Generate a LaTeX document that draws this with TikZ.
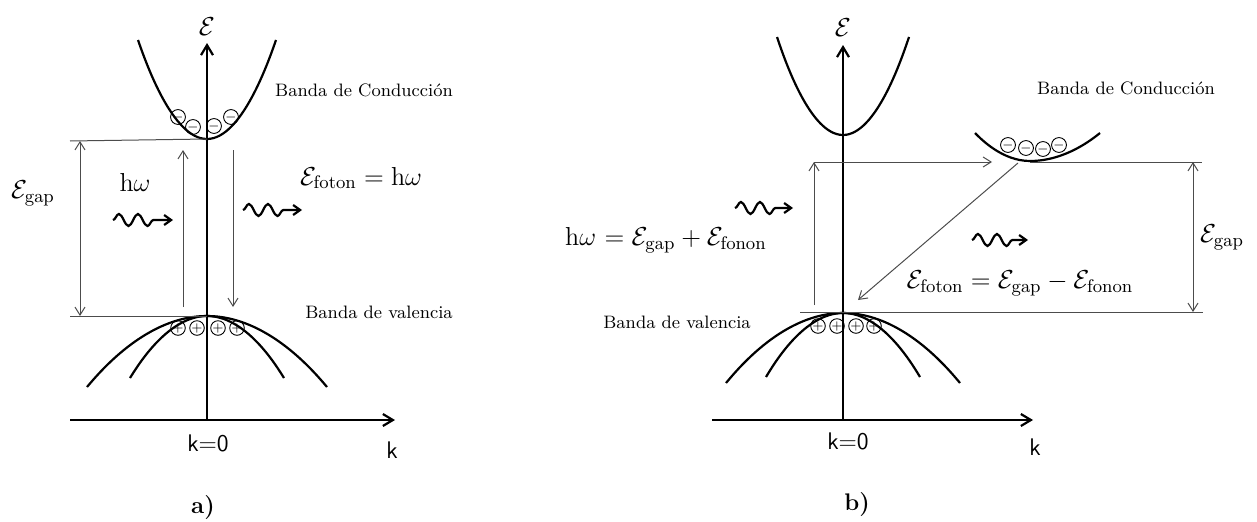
\RequirePackage{fix-cm}
\documentclass[tikz,border=0pt]{standalone}
\usetikzlibrary{arrows.meta, decorations.pathmorphing}

\tikzset{
  band/.style={line width=1.1pt},
  axis/.style={line width=1.1pt, -{Straight Barb[length=5pt,width=6pt]}},
  level/.style={line width=0.5pt, draw=black!70},
  jump/.style={level, -{Straight Barb[length=4pt,width=5pt]}},
  photon/.style={line width=1.1pt, decorate,
    decoration={snake, segment length=9.5pt, amplitude=3pt, pre length=0pt, post length=7pt},
    -{Straight Barb[length=3.5pt,width=5pt]}},
  electron/.style={circle, draw, line width=0.45pt, inner sep=0pt, minimum size=6.8pt,
    font=\fontsize{6}{6}\selectfont},
  bandtext/.style={font=\fontsize{9}{11}\selectfont},
  eqtext/.style={font=\fontsize{13}{15}\selectfont},
  axtext/.style={font=\sffamily\fontsize{12}{14}\selectfont}
}

\begin{document}
\begin{tikzpicture}[x=0.5pt,y=0.5pt]
\useasboundingbox (0,0) rectangle (1257,521);

% a) direct gap
\coordinate (cbA) at (207,382);
\coordinate (vbA) at (207,205);
\draw[axis] (207,101) -- (207,478);
\draw[axis] (70,101) -- (395,101);
\node[eqtext] (epsA) at (207,494) {$\mathcal{E}$};
\node[axtext] (kzeroA) at (208,78) {k=0};
\node[axtext] (kA) at (392,71) {k};
\node[font=\bfseries\fontsize{12}{14}\selectfont] (capA) at (203,13) {a)};
\draw[band] (138,481) parabola bend (cbA) (276,481);
\draw[band] (87,134) parabola bend (vbA) (327,134);
\draw[band] (130,143) parabola bend (vbA) (284,143);
\draw[level] (70,380) -- (cbA);
\draw[level] (70,205) -- (vbA);
\draw[level, {Straight Barb[length=4pt,width=5pt]}-{Straight Barb[length=4pt,width=5pt]}] (80,380) -- (80,205);
\draw[jump] (183,214) -- (183,371);
\draw[jump] (233,371) -- (233,214);
\draw[photon] (113,301) -- (173,301);
\draw[photon] (243,311) -- (302,311);
\node[eqtext] (gapA) at (33,328) {$\mathcal{E}_{\mathrm{gap}}$};
\node[eqtext] (hwA) at (135,339) {h$\omega$};
\node[eqtext] (fotA) at (361,343) {$\mathcal{E}_{\mathrm{foton}}=\mathrm{h}\omega$};
\node[bandtext] (condA) at (364,431) {Banda de Conducción};
\node[bandtext] (valA) at (379,209) {Banda de valencia};
\foreach \x/\y in {178/404,193/394,214/395,231/404}
  \node[electron] at (\x,\y) {$-$};
\foreach \x in {178,197,218,237}
  \node[electron] at (\x,193) {$+$};

% b) indirect gap
\coordinate (cbB) at (843,386);
\coordinate (vbB) at (843,208);
\coordinate (valley) at (1030,360);
\draw[axis] (843,101) -- (843,476);
\draw[axis] (712,101) -- (1033,101);
\node[eqtext] (epsB) at (843,493) {$\mathcal{E}$};
\node[axtext] (kzeroB) at (848,80) {k=0};
\node[axtext] (kB) at (1035,74) {k};
\node[font=\bfseries\fontsize{12}{14}\selectfont] (capB) at (857,16) {b)};
\draw[band] (777,484) parabola bend (cbB) (909,484);
\draw[band] (975,388) parabola bend (valley) (1100,388);
\draw[band] (726,138) parabola bend (vbB) (960,138);
\draw[band] (766,144) parabola bend (vbB) (920,144);
\draw[jump] (814,359) -- (992,359);
\draw[level] (1030,359) -- (1202,359);
\draw[level] (800,209) -- (1203,209);
\draw[jump] (814,216) -- (814,359);
\draw[level, {Straight Barb[length=4pt,width=5pt]}-{Straight Barb[length=4pt,width=5pt]}] (1193,359) -- (1193,209);
\draw[jump] (1018,358) -- (858,221);
\draw[photon] (735,313) -- (793,313);
\draw[photon] (972,281) -- (1028,281);
\node[eqtext] (hwB) at (666,281) {h$\omega$ $=\mathcal{E}_{\mathrm{gap}}+\mathcal{E}_{\mathrm{fonon}}$};
\node[eqtext] (fotB) at (1020,238) {$\mathcal{E}_{\mathrm{foton}}=\mathcal{E}_{\mathrm{gap}}-\mathcal{E}_{\mathrm{fonon}}$};
\node[eqtext] (gapB) at (1222,284) {$\mathcal{E}_{\mathrm{gap}}$};
\node[bandtext] (condB) at (1126,433) {Banda de Conducción};
\node[bandtext] (valB) at (677,199) {Banda de valencia};
\foreach \x/\y in {1008/376,1026/373,1043/372,1059/376}
  \node[electron] at (\x,\y) {$-$};
\foreach \x in {818,837,856,874}
  \node[electron] at (\x,195) {$+$};
\end{tikzpicture}
\end{document}
